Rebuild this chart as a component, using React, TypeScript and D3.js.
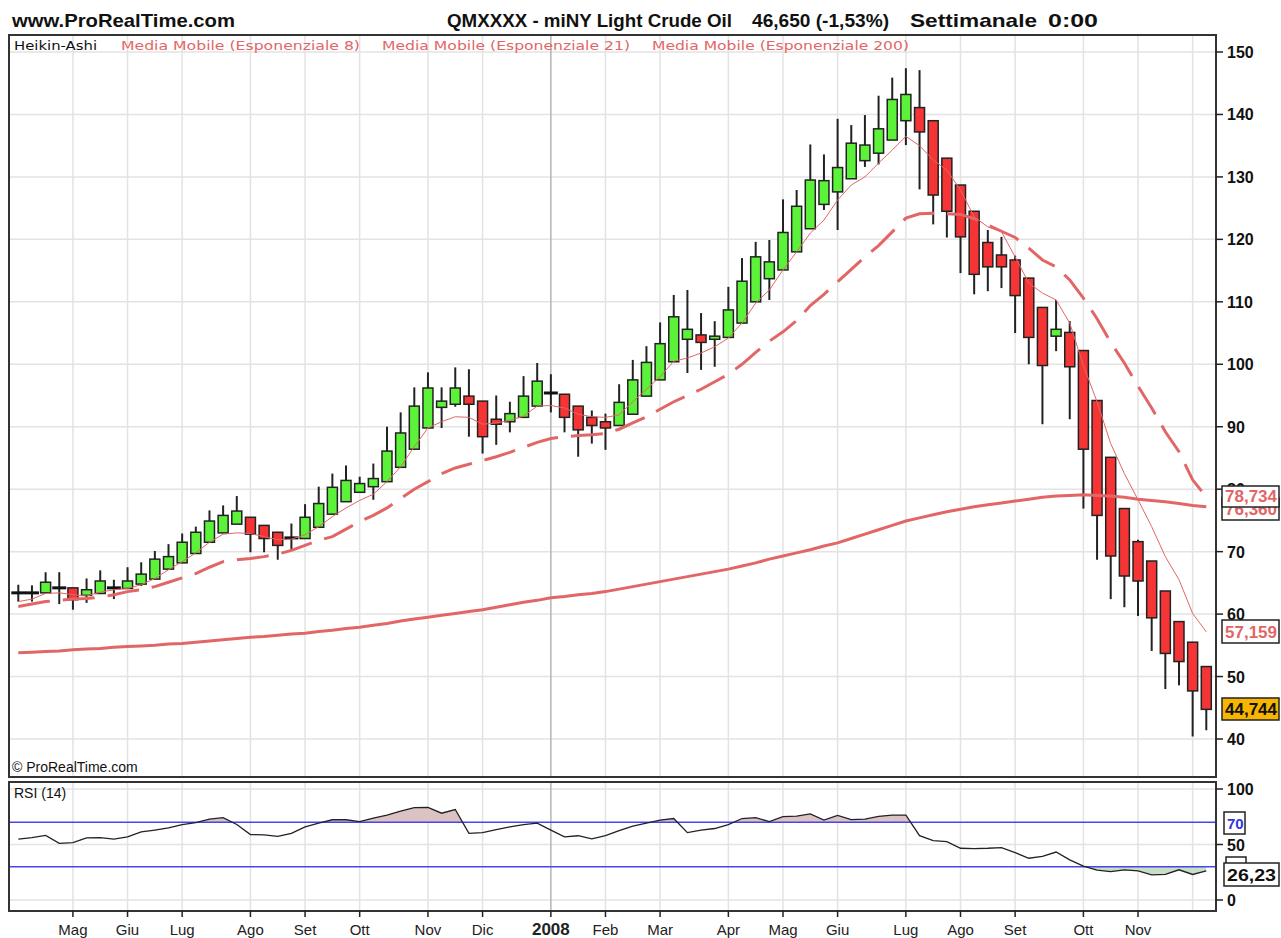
import React from "react";
import * as d3 from "d3";

// ---- Data (weekly Heikin-Ashi, Apr 2007 - Nov 2008) ----
const haOpen = [63.4,63.4,63.4,64.2,64.2,63.0,63.3,64.2,64.1,64.8,65.6,67.2,68.2,69.7,71.5,73.0,74.4,75.5,74.2,73.1,72.2,72.1,73.9,76.0,78.0,79.5,80.4,81.2,83.5,86.4,89.8,93.1,93.6,94.9,94.1,91.2,90.8,91.5,93.3,95.4,95.2,93.3,91.5,90.8,90.2,92.0,94.9,97.5,100.4,104.0,104.7,104.0,104.3,106.6,110.0,113.7,115.1,118.0,121.7,125.6,127.6,129.7,132.6,133.8,135.9,139.0,141.1,139.0,133.0,128.7,124.5,119.5,117.5,116.7,113.8,109.1,104.5,105.1,102.2,94.2,85.1,76.9,71.6,68.5,63.7,58.8,55.5,51.6];
const haClose = [63.4,63.4,65.1,64.2,62.3,63.9,65.3,64.2,65.3,66.4,68.8,69.2,71.5,73.1,74.9,75.8,76.5,72.8,72.1,71.0,72.2,75.5,77.7,80.3,81.4,80.9,81.7,86.1,89.0,93.3,96.2,94.1,96.2,93.6,88.4,90.4,92.1,94.9,97.3,95.4,91.5,89.5,90.2,89.8,93.9,97.5,100.3,103.3,107.6,105.6,103.5,104.5,108.7,113.3,117.2,116.4,121.1,125.3,129.5,129.4,131.5,135.4,135.1,137.7,142.4,143.2,137.2,127.1,124.5,120.4,114.4,115.6,115.6,111.0,104.3,99.8,105.6,99.6,86.4,75.8,69.3,66.1,65.3,59.4,53.7,52.4,47.7,44.744];
const haHigh = [64.7,64.6,66.7,66.7,64.2,65.7,67.0,65.5,67.5,68.3,70.1,71.2,72.9,74.0,76.6,77.4,78.9,75.5,74.2,73.1,74.5,77.6,80.4,82.5,83.8,82.0,84.1,90.0,92.3,96.3,98.7,96.3,99.5,99.2,94.1,95.0,94.0,98.1,100.2,98.4,95.2,93.3,92.6,92.1,96.8,100.7,102.9,106.7,111.1,111.9,108.2,106.9,112.4,117.0,119.6,119.9,126.4,127.9,135.2,133.6,139.3,138.3,139.9,143.0,145.9,147.4,147.1,139.0,133.0,128.7,124.5,121.5,120.4,117.4,113.8,109.1,110.3,106.9,102.2,94.2,85.1,76.9,71.9,68.5,63.7,58.8,55.5,51.6];
const haLow = [62.0,62.0,63.4,61.6,60.7,61.8,63.3,62.4,64.1,64.5,65.6,67.2,68.2,69.7,71.5,73.0,74.4,69.9,69.9,68.7,70.1,72.1,73.9,76.0,78.0,79.5,78.3,81.2,83.5,86.4,89.8,89.8,93.2,88.4,85.7,87.1,89.1,91.5,93.3,92.3,89.1,85.2,87.3,86.3,90.2,92.0,94.9,97.5,100.4,98.6,99.1,99.6,104.3,106.6,110.0,110.3,115.1,118.0,121.7,124.7,121.5,129.7,131.6,132.0,135.9,135.1,128.0,122.4,120.3,114.6,111.2,111.7,112.2,105.0,100.0,90.4,102.1,91.2,76.9,68.7,62.4,61.1,59.7,54.1,48.0,48.6,40.4,41.4];

const ema8 = [62.0,62.4,63.3,63.4,63.1,62.9,63.5,63.9,64.1,64.7,65.7,67.1,68.4,69.8,71.5,72.8,73.0,72.9,72.4,71.9,72.0,72.7,74.0,75.6,77.0,78.2,79.2,81.2,83.6,86.8,89.8,90.8,91.6,91.5,90.4,90.6,91.0,91.7,93.3,93.4,93.0,92.0,91.6,91.5,91.9,94.0,96.0,98.0,100.5,101.0,101.8,102.8,104.2,106.6,109.8,111.9,115.1,118.0,121.0,123.1,126.3,128.7,130.0,132.2,134.3,136.5,135.0,132.7,131.1,127.9,123.6,122.0,121.2,117.2,113.0,111.4,110.3,106.6,99.8,94.0,87.3,82.5,78.3,74.0,69.2,65.5,60.1,57.159];
const ema21 = [61.2,61.6,62.0,62.2,62.4,62.5,62.7,63.1,63.6,63.9,64.4,65.1,65.8,66.5,67.5,68.4,68.7,68.9,69.2,69.6,70.2,71.0,71.8,72.4,73.6,74.8,75.8,77.0,78.5,80.0,81.2,82.5,83.4,84.0,84.6,85.2,85.9,86.7,87.5,88.1,88.4,88.6,88.7,88.9,89.6,90.6,91.6,92.8,94.0,95.0,96.0,97.2,98.4,100.0,101.9,103.7,105.2,107.0,109.4,111.2,113.2,115.2,117.2,119.0,121.2,123.4,124.1,124.2,124.1,124.0,123.3,122.3,121.3,120.3,118.6,116.7,115.6,113.5,110.6,107.3,103.5,100.2,96.5,93.0,89.2,86.0,81.5,78.734];
const ema200 = [53.8,53.9,54.0,54.1,54.3,54.4,54.5,54.7,54.8,54.9,55.0,55.2,55.3,55.5,55.7,55.9,56.1,56.3,56.4,56.6,56.8,56.95,57.2,57.4,57.7,57.9,58.2,58.5,58.9,59.2,59.5,59.8,60.1,60.4,60.7,61.1,61.5,61.9,62.2,62.6,62.8,63.1,63.3,63.6,64.0,64.4,64.8,65.2,65.6,66.0,66.4,66.8,67.2,67.7,68.2,68.8,69.3,69.8,70.3,70.9,71.4,72.1,72.8,73.5,74.2,74.9,75.4,75.9,76.4,76.8,77.2,77.5,77.8,78.1,78.4,78.7,78.9,79.0,79.1,79.0,78.9,78.7,78.4,78.2,78.0,77.7,77.4,77.2];
const rsi = [54.8,56.2,58.2,51.1,51.7,55.9,56.2,54.8,56.8,61.3,63.0,64.9,68.0,69.7,72.8,74.2,68.0,59.0,58.7,57.3,60.1,65.8,69.2,72.3,72.3,70.6,73.7,76.5,80.1,83.2,83.5,78.2,81.5,60.1,60.7,63.5,65.8,68.0,69.2,63.0,56.8,57.9,55.1,57.9,62.4,66.5,69.2,72.0,73.4,60.7,63.0,64.4,68.0,73.4,74.2,70.6,75.1,75.6,77.6,72.0,76.2,72.5,72.8,75.4,76.5,76.5,57.9,53.4,52.5,46.6,46.3,46.6,47.2,42.7,37.6,39.3,43.2,36.2,30.6,26.9,25.5,27.2,26.3,22.7,23.0,27.2,23.0,26.23];

const monthIdx = [4,8,12,17,21,25,30,34,39,43,47,52,56,60,65,69,73,78,82,86];
const monthLbl = ["Mag","Giu","Lug","Ago","Set","Ott","Nov","Dic","2008","Feb","Mar","Apr","Mag","Giu","Lug","Ago","Set","Ott","Nov",""];
const priceTicks = [40,50,60,70,80,90,100,110,120,130,140,150];
const rsiTicks = [0,50,100];
const rsiLevels = [30,70];

export default function App() {
  const W = 1281, H = 938;
  const L = 9, R = 1216;
  const mainTop = 35, mainBot = 777;
  const rsiTop = 782, rsiBot = 911;
  const n = haClose.length;
  const x = d3.scaleLinear().domain([0, n - 1]).range([18.3, 1206.3]);
  const y = d3.scaleLinear().domain([40, 150]).range([739, 52]);
  const ry = d3.scaleLinear().domain([0, 100]).range([900, 789]);

  const line = (arr: number[]) =>
    d3.line<number>().x((_, i) => x(i)).y((v) => y(v))(arr) || "";
  const rsiLine = d3.line<number>().x((_, i) => x(i)).y((v) => ry(v))(rsi) || "";
  const areaHi = d3.area<number>().x((_, i) => x(i)).y0(ry(70)).y1((v) => ry(v))(rsi) || "";
  const areaLo = d3.area<number>().x((_, i) => x(i)).y0(ry(30)).y1((v) => ry(v))(rsi) || "";

  const green = "#5cf23a", red = "#f53535", emaCol = "#e26666";
  const grid = "#e3e3e3";
  const axisFont = "'Liberation Sans', Arial, sans-serif";
  const narrow = "'Liberation Sans Narrow', 'Arial Narrow', 'Liberation Sans', sans-serif";

  return (
    <svg width={W} height={H} style={{ position: "absolute", left: 0, top: 0, background: "#fff" }}>
      <defs>
        <clipPath id="mainClip"><rect x={L} y={mainTop} width={R - L} height={mainBot - mainTop} /></clipPath>
        <clipPath id="above70"><rect x={L} y={rsiTop} width={R - L} height={ry(70) - rsiTop} /></clipPath>
        <clipPath id="below30"><rect x={L} y={ry(30)} width={R - L} height={rsiBot - ry(30)} /></clipPath>
      </defs>
      <rect x={0} y={0} width={W} height={H} fill="#fff" />

      {/* header */}
      <text x={12} y={27} fontFamily={narrow} fontWeight="bold" fontSize={19} textLength={223} lengthAdjust="spacingAndGlyphs" fill="#111">www.ProRealTime.com</text>
      <text x={447} y={27} fontFamily={narrow} fontWeight="bold" fontSize={19} textLength={285} lengthAdjust="spacingAndGlyphs" fill="#111">QMXXXX - miNY Light Crude Oil</text>
      <text x={752} y={27} fontFamily={narrow} fontWeight="bold" fontSize={19} textLength={137} lengthAdjust="spacingAndGlyphs" fill="#111">46,650 (-1,53%)</text>
      <text x={910} y={27} fontFamily={narrow} fontWeight="bold" fontSize={19} textLength={127} lengthAdjust="spacingAndGlyphs" fill="#111">Settimanale</text>
      <text x={1048} y={27} fontFamily={narrow} fontWeight="bold" fontSize={19} textLength={50} lengthAdjust="spacingAndGlyphs" fill="#111">0:00</text>

      {/* main panel grid */}
      <g clipPath="url(#mainClip)">
        {priceTicks.map((t) => (
          <line key={"h" + t} x1={L} x2={R} y1={y(t)} y2={y(t)} stroke={grid} strokeWidth={1.5} />
        ))}
        {monthIdx.map((m, k) => (
          <line key={"v" + k} x1={x(m)} x2={x(m)} y1={mainTop} y2={mainBot} stroke={monthLbl[k] === "2008" ? "#b5b5b5" : grid} strokeWidth={1.5} />
        ))}
      </g>

      {/* candles */}
      <g clipPath="url(#mainClip)">
        {haClose.map((c, i) => {
          const o = haOpen[i];
          const cx = x(i);
          const top = y(Math.max(o, c));
          const bot = y(Math.min(o, c));
          const doji = Math.abs(o - c) < 0.05;
          return (
            <g key={"c" + i}>
              <line x1={cx} x2={cx} y1={y(haHigh[i])} y2={y(haLow[i])} stroke="#222" strokeWidth={2} />
              {doji ? (
                <line x1={cx - 7} x2={cx + 7} y1={top} y2={top} stroke="#111" strokeWidth={3} />
              ) : (
                <rect x={cx - 5} y={top} width={10} height={Math.max(bot - top, 2)} fill={c > o ? green : red} stroke="#222" strokeWidth={1.5} />
              )}
            </g>
          );
        })}
      </g>

      {/* moving averages */}
      <g clipPath="url(#mainClip)" fill="none">
        <path d={line(ema200)} stroke={emaCol} strokeWidth={3} />
        <path d={line(ema21)} stroke={emaCol} strokeWidth={3} strokeDasharray="32 13" />
        <path d={line(ema8)} stroke={emaCol} strokeWidth={1} />
      </g>

      {/* legend */}
      <text x={14} y={50} fontFamily="'DejaVu Sans', sans-serif" fontSize={13} textLength={83} lengthAdjust="spacingAndGlyphs" fill="#111">Heikin-Ashi</text>
      <text x={121} y={50} fontFamily="'DejaVu Sans', sans-serif" fontSize={13} textLength={239} lengthAdjust="spacingAndGlyphs" fill={emaCol}>Media Mobile (Esponenziale 8)</text>
      <text x={382} y={50} fontFamily="'DejaVu Sans', sans-serif" fontSize={13} textLength={248} lengthAdjust="spacingAndGlyphs" fill={emaCol}>Media Mobile (Esponenziale 21)</text>
      <text x={652} y={50} fontFamily="'DejaVu Sans', sans-serif" fontSize={13} textLength={257} lengthAdjust="spacingAndGlyphs" fill={emaCol}>Media Mobile (Esponenziale 200)</text>
      <text x={12} y={772} fontFamily={axisFont} fontSize={14} fill="#111">© ProRealTime.com</text>

      {/* main frame */}
      <rect x={L} y={mainTop} width={R - L} height={mainBot - mainTop} fill="none" stroke="#333" strokeWidth={2} />

      {/* price axis */}
      {priceTicks.map((t) => (
        <g key={"pt" + t}>
          <line x1={R} x2={R + 7} y1={y(t)} y2={y(t)} stroke="#222" strokeWidth={1.5} />
          <text x={1227} y={y(t) + 6} fontFamily={axisFont} fontWeight="bold" fontSize={16} fill="#111">{t}</text>
        </g>
      ))}

      {/* price value labels (EMA200 label partly hidden behind EMA21 label) */}
      <rect x={1222} y={498} width={57} height={22} fill="#fff" stroke="#222" strokeWidth={1.5} />
      <text x={1225} y={515} fontFamily={axisFont} fontWeight="bold" fontSize={16} fill={emaCol} textLength={52} lengthAdjust="spacingAndGlyphs">76,360</text>
      <rect x={1222} y={486} width={57} height={21} fill="#fff" stroke="#222" strokeWidth={1.5} />
      <text x={1225} y={502} fontFamily={axisFont} fontWeight="bold" fontSize={16} fill={emaCol} textLength={52} lengthAdjust="spacingAndGlyphs">78,734</text>
      <rect x={1222} y={620} width={57} height={23} fill="#fff" stroke="#222" strokeWidth={1.5} />
      <text x={1225} y={638} fontFamily={axisFont} fontWeight="bold" fontSize={16} fill={emaCol} textLength={52} lengthAdjust="spacingAndGlyphs">57,159</text>
      <rect x={1222} y={698} width={57} height={22} fill="#f7b500" stroke="#222" strokeWidth={1.5} />
      <text x={1225} y={715} fontFamily={axisFont} fontWeight="bold" fontSize={16} fill="#111" textLength={52} lengthAdjust="spacingAndGlyphs">44,744</text>

      {/* RSI panel */}
      {rsiTicks.map((t) => (
        <line key={"rg" + t} x1={L} x2={R} y1={ry(t)} y2={ry(t)} stroke={grid} strokeWidth={1.5} />
      ))}
      {monthIdx.map((m, k) => (
        <line key={"rv" + k} x1={x(m)} x2={x(m)} y1={rsiTop} y2={rsiBot} stroke={monthLbl[k] === "2008" ? "#b5b5b5" : grid} strokeWidth={1.5} />
      ))}
      <path d={areaHi} fill="#dcc3c3" clipPath="url(#above70)" />
      <path d={areaLo} fill="#c8dec8" clipPath="url(#below30)" />
      {rsiLevels.map((t) => (
        <line key={"lv" + t} x1={L} x2={R} y1={ry(t)} y2={ry(t)} stroke="#4646ee" strokeWidth={1.5} />
      ))}
      <path d={rsiLine} fill="none" stroke="#222" strokeWidth={1.3} />
      <text x={14} y={798} fontFamily={axisFont} fontSize={14} fill="#111">RSI (14)</text>
      <rect x={L} y={rsiTop} width={R - L} height={rsiBot - rsiTop} fill="none" stroke="#333" strokeWidth={2} />
      {rsiTicks.map((t) => (
        <g key={"rt" + t}>
          <line x1={R} x2={R + 7} y1={ry(t)} y2={ry(t)} stroke="#222" strokeWidth={1.5} />
          <text x={1227} y={ry(t) + 6} fontFamily={axisFont} fontWeight="bold" fontSize={16} fill="#111">{t}</text>
        </g>
      ))}
      <rect x={1224} y={812} width={21} height={22} fill="#fff" stroke="#222" strokeWidth={1.5} />
      <text x={1227} y={829} fontFamily={axisFont} fontWeight="bold" fontSize={15} fill="#3535e0">70</text>
      <rect x={1226} y={857} width={20} height={10} fill="#fff" stroke="#222" strokeWidth={1.5} />
      <rect x={1224} y={863} width={55} height={23} fill="#fff" stroke="#222" strokeWidth={1.5} />
      <text x={1227} y={881} fontFamily={axisFont} fontWeight="bold" fontSize={16} fill="#111" textLength={49} lengthAdjust="spacingAndGlyphs">26,23</text>

      {/* x axis */}
      {monthIdx.map((m, k) =>
        monthLbl[k] === "" ? null : (
          <g key={"xt" + k}>
            <line x1={x(m)} x2={x(m)} y1={rsiBot} y2={rsiBot + 6} stroke="#222" strokeWidth={1.5} />
            <text x={x(m)} y={935} textAnchor="middle" fontFamily={axisFont} fontWeight={monthLbl[k] === "2008" ? "bold" : "normal"} fontSize={monthLbl[k] === "2008" ? 17 : 15} fill="#222">{monthLbl[k]}</text>
          </g>
        )
      )}
    </svg>
  );
}
